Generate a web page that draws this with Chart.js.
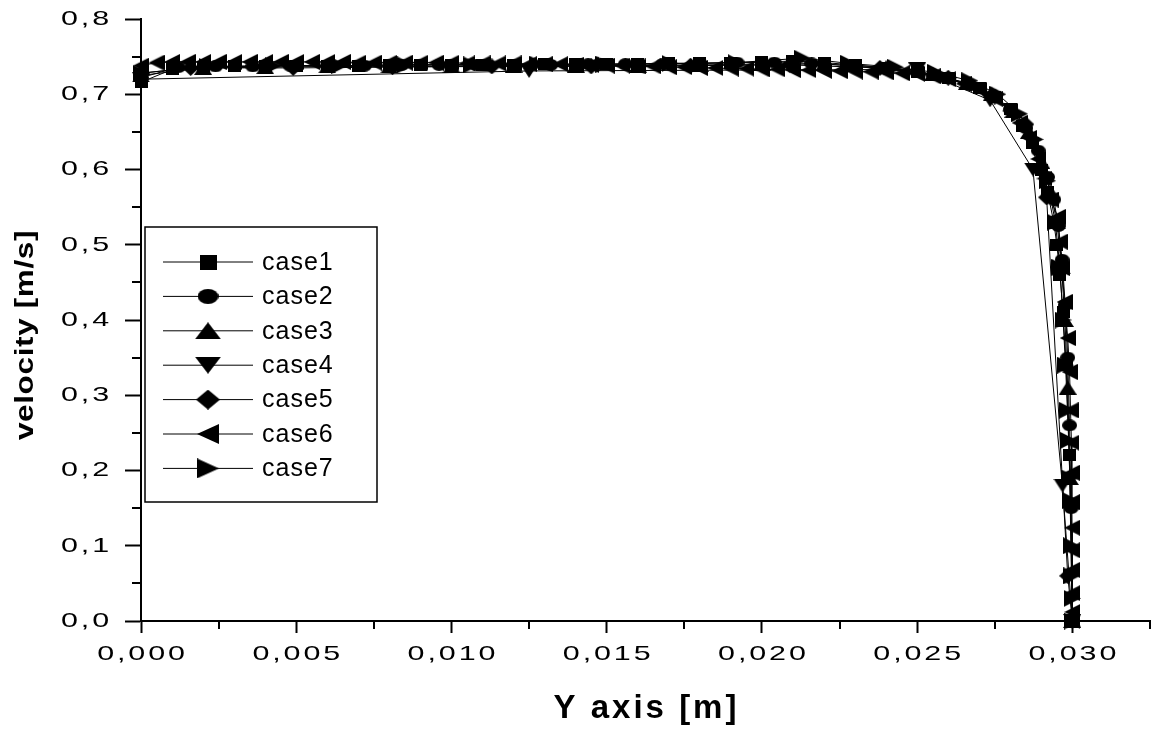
<!DOCTYPE html>
<html><head><meta charset="utf-8">
<script src="https://cdn.jsdelivr.net/npm/chart.js@4.4.0/dist/chart.umd.min.js"></script>
<style>html,body{margin:0;padding:0;background:#fff;}canvas{display:block;}</style>
</head><body>
<canvas id="c" width="1158" height="729"></canvas>
<script>
// ---------------- data ----------------
const seriesNames = ['case1', 'case2', 'case3', 'case4', 'case5', 'case6', 'case7'];

const case1X = [0, 0.001, 0.002, 0.003, 0.004, 0.005, 0.006, 0.007, 0.008, 0.009, 0.010, 0.011, 0.012, 0.013, 0.014, 0.015, 0.016, 0.017, 0.018, 0.019, 0.020, 0.021, 0.022, 0.023, 0.024, 0.025, 0.026, 0.027, 0.0275, 0.028, 0.0284, 0.0287, 0.029, 0.0292, 0.0294, 0.0295, 0.0296, 0.0297, 0.0298, 0.0299, 0.030];
const case1Y = [0.716, 0.733, 0.736, 0.737, 0.737, 0.738, 0.738, 0.738, 0.739, 0.739, 0.739, 0.739, 0.739, 0.740, 0.740, 0.740, 0.740, 0.741, 0.741, 0.742, 0.743, 0.744, 0.742, 0.739, 0.735, 0.730, 0.722, 0.708, 0.697, 0.680, 0.658, 0.635, 0.600, 0.570, 0.530, 0.500, 0.460, 0.410, 0.340, 0.220, 0.000];

const case2X = [0, 0.0012, 0.0024, 0.0036, 0.0048, 0.0060, 0.0072, 0.0084, 0.0096, 0.0108, 0.0120, 0.0132, 0.0144, 0.0156, 0.0168, 0.0180, 0.0192, 0.0204, 0.0216, 0.0228, 0.0240, 0.0250, 0.0259, 0.0267, 0.0274, 0.0280, 0.0285, 0.0289, 0.0292, 0.0294, 0.02955, 0.02967, 0.02977, 0.02985, 0.02991, 0.02996, 0.030];
const case2Y = [0.722, 0.736, 0.737, 0.737, 0.738, 0.738, 0.738, 0.739, 0.739, 0.739, 0.739, 0.739, 0.740, 0.740, 0.740, 0.741, 0.742, 0.742, 0.741, 0.738, 0.734, 0.729, 0.722, 0.712, 0.698, 0.680, 0.655, 0.625, 0.590, 0.560, 0.525, 0.480, 0.420, 0.350, 0.260, 0.150, 0.000];

const case3X = [0, 0.002, 0.004, 0.006, 0.008, 0.010, 0.012, 0.014, 0.016, 0.018, 0.020, 0.022, 0.024, 0.0255, 0.0266, 0.0274, 0.0281, 0.0286, 0.0290, 0.0293, 0.0295, 0.02965, 0.02976, 0.02985, 0.02992, 0.030];
const case3Y = [0.725, 0.735, 0.736, 0.737, 0.737, 0.737, 0.738, 0.738, 0.738, 0.739, 0.740, 0.740, 0.736, 0.727, 0.715, 0.700, 0.678, 0.650, 0.610, 0.570, 0.530, 0.470, 0.400, 0.310, 0.190, 0.000];

const case4X = [0, 0.0125, 0.0250, 0.02735, 0.02873, 0.02968, 0.030];
const case4Y = [0.720, 0.731, 0.733, 0.692, 0.600, 0.180, 0.000];

const case5X = [0, 0.0016, 0.0049, 0.0081, 0.0113, 0.0145, 0.0177, 0.0209, 0.0238, 0.0260, 0.0275, 0.0285, 0.02917, 0.02985, 0.030];
const case5Y = [0.728, 0.735, 0.735, 0.736, 0.737, 0.737, 0.738, 0.739, 0.735, 0.722, 0.697, 0.660, 0.563, 0.060, 0.000];

const case6X = [0, 0.0005, 0.0010, 0.0015, 0.0020, 0.0025, 0.0030, 0.0035, 0.0040, 0.0045, 0.0050, 0.0055, 0.0060, 0.0065, 0.0070, 0.0075, 0.0080, 0.0085, 0.0090, 0.0095, 0.0100, 0.0105, 0.0110, 0.0115, 0.0120, 0.0125, 0.0130, 0.0135, 0.0140, 0.0145, 0.0150, 0.0155, 0.0160, 0.0165, 0.0170, 0.0175, 0.0180, 0.0185, 0.0190, 0.0195, 0.0200, 0.0205, 0.0210, 0.0215, 0.0220, 0.0225, 0.0230, 0.0235, 0.0240, 0.0245, 0.0250, 0.0255, 0.0260, 0.0265, 0.0270, 0.0275, 0.0280, 0.0283, 0.0286, 0.0289, 0.0291, 0.0293, 0.02953, 0.02959, 0.02966, 0.02975, 0.02985, 0.02991, 0.02994, 0.02997, 0.02998, 0.029985, 0.02999, 0.029993, 0.029995, 0.029997, 0.029999, 0.030];
const case6Y = [0.738, 0.742, 0.743, 0.743, 0.743, 0.743, 0.743, 0.743, 0.743, 0.743, 0.743, 0.743, 0.743, 0.743, 0.742, 0.742, 0.742, 0.742, 0.742, 0.742, 0.742, 0.741, 0.741, 0.741, 0.741, 0.740, 0.740, 0.740, 0.739, 0.739, 0.738, 0.738, 0.737, 0.737, 0.736, 0.736, 0.735, 0.735, 0.734, 0.734, 0.733, 0.733, 0.732, 0.732, 0.731, 0.731, 0.730, 0.730, 0.729, 0.728, 0.727, 0.724, 0.720, 0.714, 0.706, 0.694, 0.678, 0.662, 0.642, 0.614, 0.588, 0.560, 0.537, 0.504, 0.469, 0.424, 0.376, 0.331, 0.280, 0.237, 0.197, 0.158, 0.124, 0.094, 0.068, 0.037, 0.012, 0.000];

const case7X = [0, 0.00213, 0.00426, 0.00639, 0.00852, 0.01065, 0.01278, 0.01491, 0.01704, 0.01917, 0.0213, 0.0228, 0.0243, 0.0256, 0.0267, 0.0276, 0.0283, 0.0288, 0.0292, 0.02945, 0.0296, 0.0297, 0.02978, 0.02984, 0.02988, 0.02992, 0.02995, 0.02997, 0.02998, 0.02999, 0.030];
const case7Y = [0.728, 0.737, 0.738, 0.738, 0.739, 0.739, 0.740, 0.740, 0.741, 0.742, 0.748, 0.741, 0.736, 0.729, 0.718, 0.700, 0.674, 0.640, 0.585, 0.530, 0.470, 0.400, 0.340, 0.280, 0.240, 0.190, 0.160, 0.100, 0.060, 0.030, 0.000];

const xTickValues = [0, 0.005, 0.010, 0.015, 0.020, 0.025, 0.030];
const xMinorTickValues = [0.0025, 0.0075, 0.0125, 0.0175, 0.0225, 0.0275, 0.0325];
const yTickValues = [0, 0.1, 0.2, 0.3, 0.4, 0.5, 0.6, 0.7, 0.8];
const yMinorTickValues = [0.05, 0.15, 0.25, 0.35, 0.45, 0.55, 0.65, 0.75];

const xTitle = 'Y axis [m]';
const yTitle = 'velocity [m/s]';

// ---------------- markers ----------------
function makeMarker(shape, w, h) {
  const c = document.createElement('canvas');
  c.width = w; c.height = h;
  const g = c.getContext('2d');
  g.fillStyle = '#000';
  g.beginPath();
  if (shape === 'square') g.rect(0, 0, w, h);
  else if (shape === 'circle') g.ellipse(w / 2, h / 2, w / 2, h / 2, 0, 0, Math.PI * 2);
  else if (shape === 'up') { g.moveTo(w / 2, 0); g.lineTo(w, h); g.lineTo(0, h); }
  else if (shape === 'down') { g.moveTo(0, 0); g.lineTo(w, 0); g.lineTo(w / 2, h); }
  else if (shape === 'diamond') { g.moveTo(w / 2, 0); g.lineTo(w, h / 2); g.lineTo(w / 2, h); g.lineTo(0, h / 2); }
  else if (shape === 'left') { g.moveTo(0, h / 2); g.lineTo(w, 0); g.lineTo(w, h); }
  else if (shape === 'right') { g.moveTo(0, 0); g.lineTo(w, h / 2); g.lineTo(0, h); }
  g.closePath();
  g.fill();
  return c;
}
const shapes = ['square', 'circle', 'up', 'down', 'diamond', 'left', 'right'];
const dataSizes = [[13, 12], [15, 12], [18, 14], [18, 14], [17, 16], [16, 16], [17, 17]];
const legendSizes = [[17, 15], [21, 15], [26, 17], [26, 17], [24, 20], [22, 20], [22, 20]];
const dataMarkers = shapes.map((s, i) => makeMarker(s, dataSizes[i][0], dataSizes[i][1]));
const legendMarkers = shapes.map((s, i) => makeMarker(s, legendSizes[i][0], legendSizes[i][1]));

const xs = [case1X, case2X, case3X, case4X, case5X, case6X, case7X];
const ys = [case1Y, case2Y, case3Y, case4Y, case5Y, case6Y, case7Y];

const datasets = seriesNames.map((name, i) => ({
  label: name,
  data: xs[i].map((x, k) => ({ x: x, y: ys[i][k] })),
  borderColor: '#000',
  backgroundColor: '#000',
  borderWidth: 1,
  pointStyle: dataMarkers[i],
  pointRadius: 7,
  pointHoverRadius: 7,
  tension: 0,
  clip: false,
  order: 7 - i
}));

const FONT = '"Liberation Sans", Arial, Helvetica, sans-serif';

// horizontal text stretch (the reference text is drawn wide)
const origFillText = CanvasRenderingContext2D.prototype.fillText;
function installStretch(ctx) {
  if (ctx._stretchInstalled) return;
  ctx._stretchInstalled = true;
  ctx._sx = 1;
  ctx.fillText = function (t, x, y, mw) {
    if (this._sx !== 1) {
      this.save();
      this.translate(x, y);
      this.scale(this._sx, 1);
      origFillText.call(this, t, 0, 0);
      this.restore();
    } else if (mw === undefined) {
      origFillText.call(this, t, x, y);
    } else {
      origFillText.call(this, t, x, y, mw);
    }
  };
}

// ---------------- plugin: spacing, minor ticks, legend, titles ----------------
const decor = {
  id: 'decor',
  beforeDraw(chart) {
    installStretch(chart.ctx);
    chart.ctx._sx = 1.45;
    chart.ctx.letterSpacing = '2px';
  },
  beforeDatasetsDraw(chart) {
    const ctx = chart.ctx;
    ctx._sx = 1;
    ctx.letterSpacing = '0px';
    const a = chart.chartArea;
    const xs_ = chart.scales.x, ys_ = chart.scales.y;
    ctx.save();
    ctx.strokeStyle = '#000';
    ctx.lineWidth = 2;
    ctx.beginPath();
    xMinorTickValues.forEach(v => {
      const px = Math.round(xs_.getPixelForValue(v));
      ctx.moveTo(px, a.bottom); ctx.lineTo(px, a.bottom + 8);
    });
    yMinorTickValues.forEach(v => {
      const py = Math.round(ys_.getPixelForValue(v));
      ctx.moveTo(a.left - 9, py); ctx.lineTo(a.left, py);
    });
    ctx.stroke();
    ctx.restore();
  },
  afterDraw(chart) {
    const ctx = chart.ctx;
    ctx._sx = 1;
    const a = chart.chartArea;
    ctx.save();
    // legend box
    const bx = a.left + 4, by = a.top + 208, bw = 232, bh = 275;
    ctx.strokeStyle = '#000';
    ctx.lineWidth = 1.5;
    ctx.strokeRect(bx, by, bw, bh);
    ctx.font = '25px ' + FONT;
    ctx.letterSpacing = '1px';
    ctx.textBaseline = 'middle';
    ctx.textAlign = 'left';
    seriesNames.forEach((name, i) => {
      const ry = by + 35 + i * 34.4;
      ctx.beginPath();
      ctx.lineWidth = 1;
      ctx.moveTo(bx + 18, ry); ctx.lineTo(bx + 108, ry);
      ctx.stroke();
      const m = legendMarkers[i];
      ctx.drawImage(m, bx + 63 - m.width / 2, ry - m.height / 2);
      ctx.fillStyle = '#000';
      ctx.fillText(name, bx + 117, ry + 1);
    });
    // x title
    ctx.font = 'bold 33px ' + FONT;
    ctx.letterSpacing = '3px';
    ctx.textAlign = 'center';
    ctx.textBaseline = 'alphabetic';
    ctx.fillText(xTitle, (a.left + a.right) / 2 + 1, 718);
    // y title (stretched along its reading direction)
    ctx.translate(33, 335);
    ctx.rotate(-Math.PI / 2);
    ctx.font = 'bold 25px ' + FONT;
    ctx.letterSpacing = '0.5px';
    ctx._sx = 1.26;
    ctx.fillText(yTitle, 0, 0);
    ctx._sx = 1;
    ctx.restore();
  }
};

new Chart(document.getElementById('c'), {
  type: 'line',
  data: { datasets: datasets },
  plugins: [decor],
  options: {
    responsive: false,
    animation: false,
    devicePixelRatio: 1,
    events: [],
    layout: { padding: { top: 19, right: 1, left: 0, bottom: 0 } },
    plugins: { legend: { display: false }, tooltip: { enabled: false }, title: { display: false } },
    scales: {
      x: {
        type: 'linear', min: 0, max: 0.0325,
        afterBuildTicks: s => { s.ticks = xTickValues.map(v => ({ value: v })); },
        afterFit: s => { s.height = 108; s.paddingLeft = 0; s.paddingRight = 0; },
        ticks: {
          autoSkip: false, maxRotation: 0, minRotation: 0, padding: 9, labelOffset: 1.5,
          color: '#000', font: { family: FONT, size: 21 },
          callback: v => Number(v).toFixed(3).replace('.', ',')
        },
        grid: { display: true, drawOnChartArea: false, drawTicks: true, tickLength: 12, tickWidth: 2, tickColor: '#000' },
        border: { display: true, color: '#000', width: 2 },
        title: { display: false }
      },
      y: {
        type: 'linear', min: 0, max: 0.8,
        afterBuildTicks: s => { s.ticks = yTickValues.map(v => ({ value: v })); },
        afterFit: s => { s.width = 141; s.paddingTop = 0; s.paddingBottom = 0; },
        ticks: {
          padding: 13, color: '#000', font: { family: FONT, size: 21 },
          callback: v => Number(v).toFixed(1).replace('.', ',')
        },
        grid: { display: true, drawOnChartArea: false, drawTicks: true, tickLength: 16, tickWidth: 2, tickColor: '#000' },
        border: { display: true, color: '#000', width: 2 },
        title: { display: false }
      }
    }
  }
});
</script>
</body></html>
